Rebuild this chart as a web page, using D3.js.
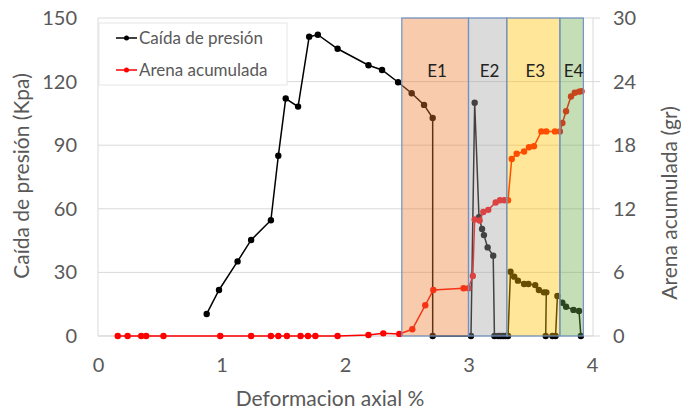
<!DOCTYPE html>
<html>
<head>
<meta charset="utf-8">
<script src="https://cdn.jsdelivr.net/npm/d3@7"></script>
<style>
  body { margin: 0; background: #fff; }
  text { font-family: Lato, "Open Sans", sans-serif; }
</style>
</head>
<body>
<div id="chart"></div>
<script>
// Caida de presion (Kpa), left axis
var presionX = [0.88, 0.98, 1.13, 1.24, 1.40, 1.46, 1.52, 1.62, 1.71, 1.78, 1.94, 2.19, 2.30, 2.43, 2.54, 2.64, 2.71, 2.71,
    3.02, 3.05, 3.085, 3.11, 3.125, 3.155, 3.20, 3.21, 3.24, 3.26, 3.28, 3.30, 3.32,
    3.34, 3.37, 3.40, 3.45, 3.485, 3.54, 3.57, 3.61, 3.63, 3.625, 3.68, 3.705,
    3.72, 3.76, 3.79, 3.85, 3.895, 3.91];
var presionY = [10.4, 21.7, 35.2, 45.3, 54.6, 85, 112, 108.2, 141.2, 142.1, 135.5, 127.7, 125.5, 119.7, 114.5, 109, 102.8, 0,
    0, 110, 56, 50.5, 47.6, 41.8, 37.9, 0, 0, 0, 0, 0, 0,
    30.3, 28, 26.1, 24.5, 24.5, 24, 21.7, 20.6, 20.6, 0, 0, 0,
    18.9, 15.7, 13.8, 12.3, 11.8, 0];

// Arena acumulada (gr), right axis
var arenaX = [0.16, 0.24, 0.35, 0.39, 0.53, 0.99, 1.24, 1.40, 1.46, 1.53, 1.64, 1.70, 1.76, 1.94, 2.19, 2.31, 2.44,
    2.545, 2.65, 2.715, 2.96, 3.0, 3.035, 3.05, 3.09, 3.12, 3.16, 3.22, 3.255, 3.29, 3.32,
    3.35, 3.39, 3.45, 3.49, 3.53, 3.59, 3.63, 3.70, 3.74, 3.76, 3.79, 3.83, 3.86, 3.895, 3.915];
var arenaY = [0, 0, 0, 0, 0, 0, 0, 0, 0, 0, 0, 0, 0, 0, 0.1, 0.25, 0.2,
    0.63, 2.9, 4.34, 4.5, 4.5, 5.66, 11.0, 10.9, 11.7, 11.9, 12.6, 12.8, 12.8, 12.8,
    16.7, 17.2, 17.4, 17.8, 17.9, 19.3, 19.3, 19.3, 19.3, 20.1, 21.2, 22.6, 22.95, 23.05, 23.1];

// stages
var etapas = ["E1", "E2", "E3", "E4"];
var etapaInicio = [2.46, 3.0, 3.31, 3.74];
var etapaFin = [3.0, 3.31, 3.74, 3.93];
var etapaColor = ["#ED7D31", "#A5A5A5", "#FFC000", "#70AD47"];

var xTicks = [0, 1, 2, 3, 4];
var yTicks = [0, 30, 60, 90, 120, 150];
var y2Ticks = [0, 6, 12, 18, 24, 30];

var svgWidth = 681;
var svgHeight = 411;
var plotLeft = 98, plotRight = 592, plotTop = 18, plotBottom = 336;

var svg = d3.select("#chart").append("svg")
    .attr("width", svgWidth)
    .attr("height", svgHeight);

var x = d3.scaleLinear().domain([0, 4]).range([plotLeft, plotRight]);
var y = d3.scaleLinear().domain([0, 150]).range([plotBottom, plotTop]);
var y2 = d3.scaleLinear().domain([0, 30]).range([plotBottom, plotTop]);

var grey = "#595959";

// gridlines
svg.append("g")
    .selectAll("line")
    .data(yTicks)
    .enter().append("line")
    .attr("x1", plotLeft).attr("x2", plotRight + 8)
    .attr("y1", d => y(d)).attr("y2", d => y(d))
    .attr("stroke", "#D9D9D9").attr("stroke-width", 1);

// plot edges
svg.append("line").attr("x1", plotLeft).attr("x2", plotLeft).attr("y1", plotTop).attr("y2", plotBottom)
    .attr("stroke", "#D9D9D9");
svg.append("line").attr("x1", plotRight + 1).attr("x2", plotRight + 1).attr("y1", plotTop).attr("y2", plotBottom)
    .attr("stroke", "#D9D9D9");

// axes
var xAxis = svg.append("g")
    .attr("transform", `translate(0, ${plotBottom})`)
    .call(d3.axisBottom(x).tickValues(xTicks).tickFormat(d3.format("d")).tickSize(0).tickPadding(22));
var yAxis = svg.append("g")
    .attr("transform", `translate(${plotLeft}, 0)`)
    .call(d3.axisLeft(y).tickValues(yTicks).tickSize(0).tickPadding(21));
var y2Axis = svg.append("g")
    .attr("transform", `translate(${plotRight}, 0)`)
    .call(d3.axisRight(y2).tickValues(y2Ticks).tickSize(0).tickPadding(21));

[xAxis, yAxis, y2Axis].forEach(function (a) {
    a.select(".domain").remove();
    a.selectAll("text")
        .attr("fill", grey)
        .style("font-size", "20px")
        .style("font-family", "Lato, sans-serif");
});
svg.append("line").attr("x1", plotLeft).attr("x2", plotRight + 1).attr("y1", plotBottom).attr("y2", plotBottom)
    .attr("stroke", "#D9D9D9");

// series
var presion = presionX.map((d, i) => ({ x: d, y: presionY[i] }));
var arena = arenaX.map((d, i) => ({ x: d, y: arenaY[i] }));

svg.append("path")
    .datum(presion)
    .attr("fill", "none")
    .attr("stroke", "#000")
    .attr("stroke-width", 1.5)
    .attr("d", d3.line().x(d => x(d.x)).y(d => y(d.y)));
svg.append("g").selectAll("circle")
    .data(presion).enter().append("circle")
    .attr("cx", d => x(d.x)).attr("cy", d => y(d.y))
    .attr("r", 3.2).attr("fill", "#000");

svg.append("path")
    .datum(arena)
    .attr("fill", "none")
    .attr("stroke", "#FF0000")
    .attr("stroke-width", 1.5)
    .attr("d", d3.line().x(d => x(d.x)).y(d => y2(d.y)));
svg.append("g").selectAll("circle")
    .data(arena).enter().append("circle")
    .attr("cx", d => x(d.x)).attr("cy", d => y2(d.y))
    .attr("r", 3.2).attr("fill", "#FF0000");

// stage boxes drawn on top, semi transparent
var boxes = svg.append("g");
etapas.forEach(function (e, i) {
    boxes.append("rect")
        .attr("x", x(etapaInicio[i]))
        .attr("y", y(150))
        .attr("width", x(etapaFin[i]) - x(etapaInicio[i]))
        .attr("height", y(0) - y(150))
        .attr("fill", etapaColor[i])
        .attr("fill-opacity", 0.4)
        .attr("stroke", "#6F93C4")
        .attr("stroke-width", 1.2);
    boxes.append("text")
        .attr("x", (x(etapaInicio[i]) + x(etapaFin[i])) / 2 + 2)
        .attr("y", 77)
        .attr("text-anchor", "middle")
        .attr("fill", "#222")
        .style("font-size", "17px")
        .text(e);
});

// legend
var legend = svg.append("g");
legend.append("rect")
    .attr("x", 99).attr("y", 23).attr("width", 188).attr("height", 62)
    .attr("fill", "#fff").attr("stroke", "#E6E6E6");
var legendItems = [["Caída de presión", "#000", 38], ["Arena acumulada", "#FF0000", 70]];
legendItems.forEach(function (d) {
    legend.append("line")
        .attr("x1", 116).attr("x2", 137).attr("y1", d[2]).attr("y2", d[2])
        .attr("stroke", d[1]).attr("stroke-width", 1.5);
    legend.append("circle")
        .attr("cx", 126.5).attr("cy", d[2]).attr("r", 2.5).attr("fill", d[1]);
    legend.append("text")
        .attr("x", 139).attr("y", d[2] + 6)
        .attr("fill", grey)
        .style("font-size", "17px")
        .text(d[0]);
});

// axis titles
svg.append("text")
    .attr("x", 330).attr("y", 406)
    .attr("text-anchor", "middle")
    .attr("fill", grey)
    .style("font-size", "21px")
    .text("Deformacion axial %");
svg.append("text")
    .attr("transform", "rotate(-90)")
    .attr("x", -176).attr("y", 29)
    .attr("text-anchor", "middle")
    .attr("fill", grey)
    .style("font-size", "21px")
    .text("Caída de presión (Kpa)");
svg.append("text")
    .attr("transform", "rotate(-90)")
    .attr("x", -203).attr("y", 677)
    .attr("text-anchor", "middle")
    .attr("fill", grey)
    .style("font-size", "21px")
    .text("Arena acumulada (gr)");
</script>
</body>
</html>
